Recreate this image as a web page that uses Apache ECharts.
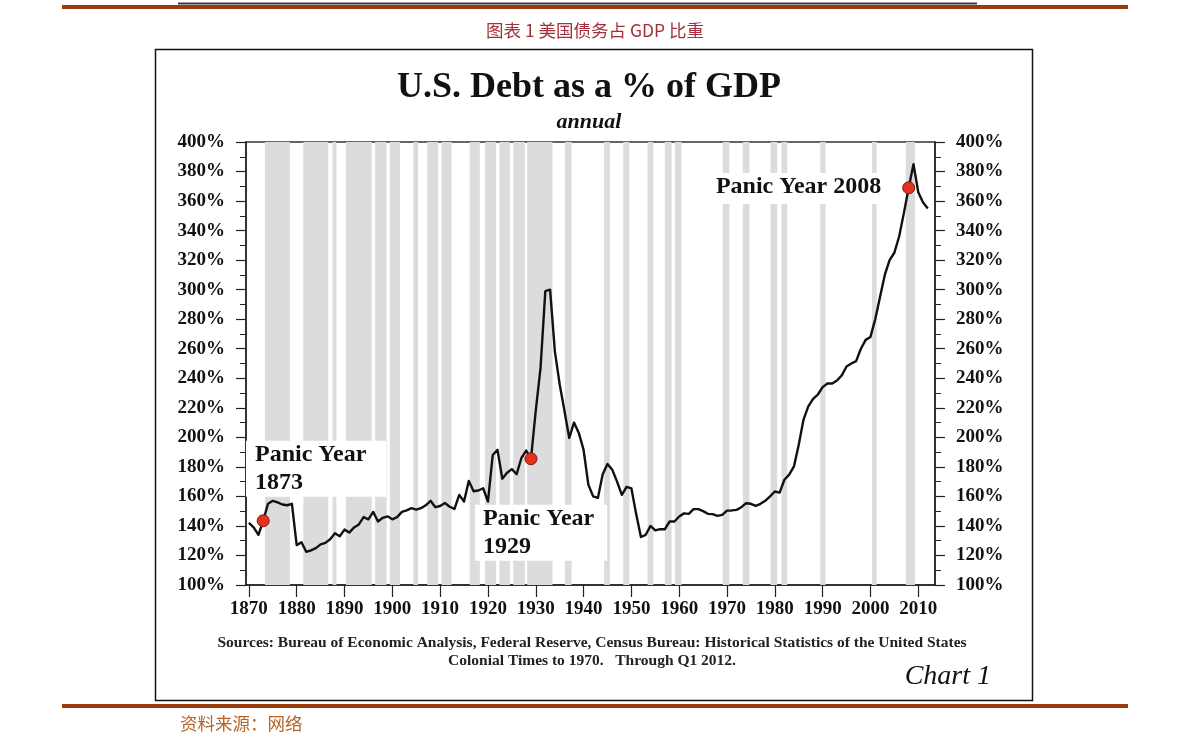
<!DOCTYPE html>
<html>
<head>
<meta charset="utf-8">
<script src="https://cdn.jsdelivr.net/npm/echarts@6/dist/echarts.min.js"></script>
<style>
html,body{margin:0;padding:0;background:#fff;}
#c{width:1191px;height:753px;}
</style>
</head>
<body>
<div id="c"></div>
<script>
// ---------- data ----------
const firstYear = 1870;
const debtPct = [
  142, 139, 134, 143.5, 155, 157, 156, 154.5, 154, 155,          // 1870s
  127, 129, 122.5, 123.5, 125, 127.5, 128.5, 131, 135, 133,      // 1880s
  137.5, 135.5, 139, 141, 146, 144.5, 149.5, 143, 145.5, 146.5,  // 1890s
  144.5, 146, 149.5, 150.5, 152, 151, 152, 154, 157, 152.7,      // 1900s
  153.5, 155.5, 153, 151.5, 161, 156.5, 170.5, 163.5, 164, 165.5,// 1910s
  156.5, 188, 191.5, 172, 176, 178.5, 175, 186, 191, 185.5,      // 1920s
  218, 247, 299, 300, 258, 236, 218, 199.6, 210, 203,            // 1930s
  191.6, 168, 160, 159, 175, 182, 178, 170, 161, 166.5,          // 1940s
  165.5, 148, 132.5, 134, 140, 137, 137.8, 137.8, 143, 143,      // 1950s
  146.4, 148.5, 148.2, 151.4, 151.4, 150, 148.2, 148, 146.8, 147.5, // 1960s
  150.4, 150.5, 150.9, 152.7, 155.4, 155, 153.6, 155, 157, 160,  // 1970s
  163.3, 162.6, 171.3, 174.7, 180.3, 195, 212, 221, 226, 229,    // 1980s
  234, 236.5, 236.5, 238.5, 242, 248, 250, 251.6, 260, 266,      // 1990s
  268, 280, 295, 310, 320, 325, 336, 352, 369, 385,              // 2000s
  366, 359, 355                                                  // 2010-2012
];
const panicYears = [1873, 1929, 2008];
const panicValues = [143.5, 185.5, 369];
const panicLabels = ['Panic Year\n1873', 'Panic Year\n1929', 'Panic Year 2008'];
// recession shading (start year, end year)
const bandStart = [1873.35, 1881.4, 1887.5, 1890.3, 1896.4, 1899.5, 1904.4, 1907.3, 1910.3, 1916.2,
                   1919.4, 1922.4, 1925.3, 1928.2, 1936.1, 1944.3, 1948.3, 1953.4, 1957.0, 1959.1,
                   1969.1, 1973.3, 1979.1, 1981.4, 1989.5, 2000.3, 2007.4];
const bandEnd   = [1878.6, 1886.6, 1888.3, 1895.7, 1898.8, 1901.6, 1905.4, 1909.6, 1912.4, 1918.3,
                   1921.7, 1924.6, 1927.7, 1933.5, 1937.5, 1945.5, 1949.6, 1954.6, 1958.4, 1960.5,
                   1970.5, 1974.7, 1980.5, 1982.6, 1990.6, 2001.3, 2009.3];
const xTicks = [1870, 1880, 1890, 1900, 1910, 1920, 1930, 1940, 1950, 1960, 1970, 1980, 1990, 2000, 2010];

// ---------- build ----------
const lineData = debtPct.map((v, i) => [firstYear + i, v]);
const bandData = bandStart.map((s, i) => [s, bandEnd[i], 100]);
const dotData = panicYears.map((y, i) => [y, panicValues[i]]);
// label anchors (top-left of white box), in data units
const labelAnchors = [[1869.4, 197.7], [1917.27, 154.3], [1966.42, 379.0]];
const labelPads = [[0, 20, 0, 9], [0, 13, 0, 8], [0, 6, 3, 6]];
const annData = panicLabels.map((t, i) => ({
  value: labelAnchors[i],
  label: { padding: labelPads[i] }
}));

const serif = "'Liberation Serif', 'DejaVu Serif', serif";
const chart = echarts.init(document.getElementById('c'), null, { renderer: 'canvas' });

const yAxisCommon = {
  type: 'value', min: 100, max: 400, interval: 20,
  axisLine: { show: true, lineStyle: { color: '#222', width: 1.5 } },
  axisTick: { show: true, inside: false, length: 10, lineStyle: { color: '#222', width: 1.2 } },
  minorTick: { show: true, splitNumber: 2, length: 6, lineStyle: { color: '#222', width: 1 } },
  splitLine: { show: false },
  axisLabel: { formatter: '{value}%', fontFamily: serif, fontWeight: 'bold', fontSize: 19, color: '#111', margin: 21 }
};

chart.setOption({
  animation: false,
  backgroundColor: '#fff',
  grid: { left: 246, right: 256, top: 142, bottom: 168, show: true, borderColor: '#333', borderWidth: 1.5, backgroundColor: 'transparent' },
  xAxis: {
    type: 'value', min: 1869.4, max: 2013.5,
    axisLine: { show: true, onZero: false, lineStyle: { color: '#222', width: 1.5 } },
    axisTick: { show: true, length: 12, customValues: xTicks, lineStyle: { color: '#222', width: 1.2 } },
    axisLabel: { customValues: xTicks, formatter: function (v) { return String(Math.round(v)); }, fontFamily: serif, fontWeight: 'bold', fontSize: 19, color: '#111', margin: 15 },
    splitLine: { show: false }
  },
  yAxis: [
    Object.assign({ position: 'left' }, yAxisCommon),
    Object.assign({ position: 'right' }, yAxisCommon)
  ],
  series: [
    {
      type: 'custom', z: 1, silent: true,
      data: bandData,
      encode: { x: [0, 1], y: 2 },
      renderItem: function (params, api) {
        const a = api.coord([api.value(0), 400]);
        const b = api.coord([api.value(1), 100]);
        return { type: 'rect', shape: { x: a[0], y: a[1], width: b[0] - a[0], height: b[1] - a[1] }, style: { fill: '#dcdcdc' } };
      }
    },
    {
      type: 'scatter', z: 2, symbolSize: 0, silent: true,
      data: annData,
      itemStyle: { opacity: 1 },
      label: {
        show: true, position: [0, 0], align: 'left', verticalAlign: 'top', opacity: 1,
        formatter: function (p) { return panicLabels[p.dataIndex]; },
        fontFamily: serif, fontWeight: 'bold', fontSize: 24, lineHeight: 28, color: '#111',
        backgroundColor: '#ffffff'
      }
    },
    {
      type: 'line', z: 3, data: lineData, showSymbol: false, symbol: 'none',
      lineStyle: { color: '#111', width: 2.4, join: 'round' }, yAxisIndex: 0
    },
    {
      type: 'scatter', z: 4, data: dotData, symbolSize: 12,
      itemStyle: { color: '#e5321f', borderColor: '#7a1a10', borderWidth: 1, opacity: 1 }
    }
  ],
  graphic: [
    { type: 'line', shape: { x1: 178, y1: 3.5, x2: 977, y2: 3.5 }, style: { stroke: '#3a3a3a', lineWidth: 2 } },
    { type: 'rect', shape: { x: 62, y: 5, width: 1066, height: 4 }, style: { fill: '#9a3b0e' } },
    { type: 'text', x: 595, y: 30, style: { text: '图表 1 美国债务占 GDP 比重', fontFamily: "'Noto Sans CJK SC', sans-serif", fontSize: 17.5, fill: '#a3303c', align: 'center', verticalAlign: 'middle' } },
    { type: 'rect', shape: { x: 155.5, y: 49.5, width: 877, height: 651 }, style: { fill: 'none', stroke: '#111', lineWidth: 1.5 } },
    { type: 'text', x: 589, y: 88, style: { text: 'U.S. Debt as a % of GDP', fontFamily: serif, fontWeight: 'bold', fontSize: 36, fill: '#111', align: 'center', verticalAlign: 'middle' } },
    { type: 'text', x: 589, y: 122, style: { text: 'annual', fontFamily: serif, fontWeight: 'bold', fontStyle: 'italic', fontSize: 22, fill: '#111', align: 'center', verticalAlign: 'middle' } },
    { type: 'text', x: 592, y: 643, style: { text: 'Sources: Bureau of Economic Analysis, Federal Reserve, Census Bureau: Historical Statistics of the United States', fontFamily: serif, fontWeight: 'bold', fontSize: 15.5, fill: '#222', align: 'center', verticalAlign: 'middle' } },
    { type: 'text', x: 592, y: 661, style: { text: 'Colonial Times to 1970.   Through Q1 2012.', fontFamily: serif, fontWeight: 'bold', fontSize: 15.5, fill: '#222', align: 'center', verticalAlign: 'middle' } },
    { type: 'text', x: 991, y: 677, style: { text: 'Chart 1', fontFamily: serif, fontStyle: 'italic', fontSize: 28, fill: '#111', align: 'right', verticalAlign: 'middle' } },
    { type: 'rect', shape: { x: 62, y: 704, width: 1066, height: 4 }, style: { fill: '#9a3b0e' } },
    { type: 'text', x: 180, y: 723, style: { text: '资料来源：网络', fontFamily: "'Noto Sans CJK SC', sans-serif", fontSize: 17.5, fill: '#b5652a', align: 'left', verticalAlign: 'middle' } }
  ]
});
</script>
</body>
</html>
